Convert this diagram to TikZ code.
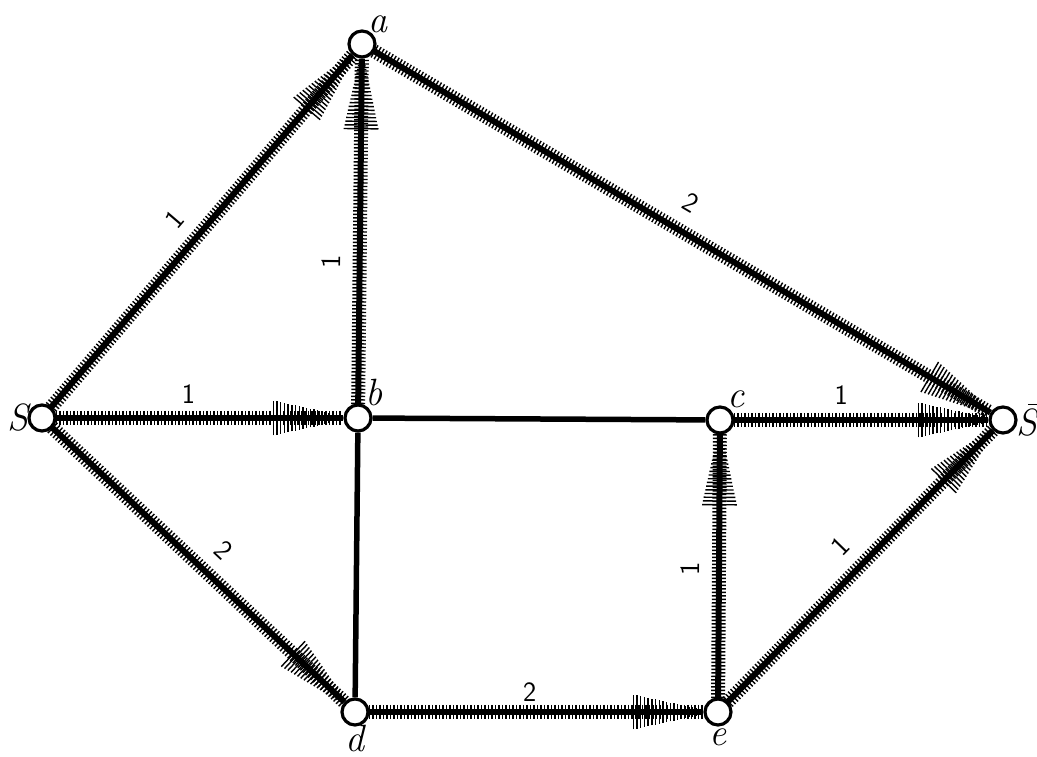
\documentclass[tikz,border=0pt]{standalone}
\usepackage{fontspec}
\usetikzlibrary{positioning, decorations.pathreplacing, decorations.markings, backgrounds}

% hatched arrow head, drawn backwards from the end of the edge
\newcommand{\hatchhead}{%
  \foreach \k in {0,...,18}
    \draw[line width=1.4pt] ({-3-3.7*\k},{-(3+0.8*\k)}) -- ({-3-3.7*\k},{3+0.8*\k});}
% S with a bar over it
\newcommand{\sbar}{\rlap{\kern0.3em\raisebox{0.8em}{\rule{0.38em}{0.035em}}}S}

\begin{document}
\begin{tikzpicture}[
    x=1pt, y=1pt,
    vertex/.style={circle, draw, line width=3.2pt, fill=white, minimum size=26pt, inner sep=0pt},
    vname/.style={font=\itshape\fontsize{38}{40}\selectfont, inner sep=1pt},
    hatched/.style={line width=6pt, preaction={draw, line width=1.4pt, decorate, decoration={ticks, segment length=3.5pt, amplitude=7pt}}},
    plain/.style={line width=5.5pt},
    flow/.style={hatched, postaction={decorate, decoration={markings, mark=at position -0.5pt with {\hatchhead}}}},
    weight/.style={font=\sffamily\fontsize{28}{30}\selectfont, sloped, inner sep=0pt}
]
\useasboundingbox (0,0) rectangle (1037,757);

\node[vertex, label={[vname, label distance=-2pt]180:S}] (S) at (42,339) {};
\node[vertex, label={[vname, label distance=-3pt]63:a}] (a) at (362,713) {};
\node[vertex, label={[vname, label distance=-2pt]60:b}] (b) at (358,339) {};
\node[vertex, label={[vname, label distance=-2pt]60:c}] (c) at (720,337) {};
\node[vertex, label={[vname, label distance=-2pt]0:\sbar}] (Sb) at (1003,337) {};
\node[vertex, label={[vname, label distance=-3pt]270:d}] (d) at (355,45) {};
\node[vertex, label={[vname, label distance=1pt]270:e}] (e) at (718,45) {};

\begin{scope}[on background layer]
\fill[white] (0,0) rectangle (1037,757);
\draw[flow] (S) -- node[weight, above=16pt, pos=0.48] {1} (a);
\draw[flow] (b) -- node[weight, above=16pt, pos=0.41] {1} (a);
\draw[flow] (a) -- node[weight, above=17pt, pos=0.49] {2} (Sb);
\draw[flow] (S) -- node[weight, above=11pt, pos=0.46] {1} (b);
\draw[flow] (S) -- node[weight, above=16pt, pos=0.52] {2} (d);
\draw[flow] (d) -- node[weight, above=7pt, pos=0.48] {2} (e);
\draw[flow] (e) -- node[weight, above=16pt, pos=0.49] {1} (c);
\draw[flow] (c) -- node[weight, above=12pt, pos=0.42] {1} (Sb);
\draw[flow] (e) -- node[weight, above=16pt, pos=0.5] {1} (Sb);
\draw[plain] (b) -- (c);
\draw[plain] (b) -- (d);
\end{scope}
\end{tikzpicture}
\end{document}
